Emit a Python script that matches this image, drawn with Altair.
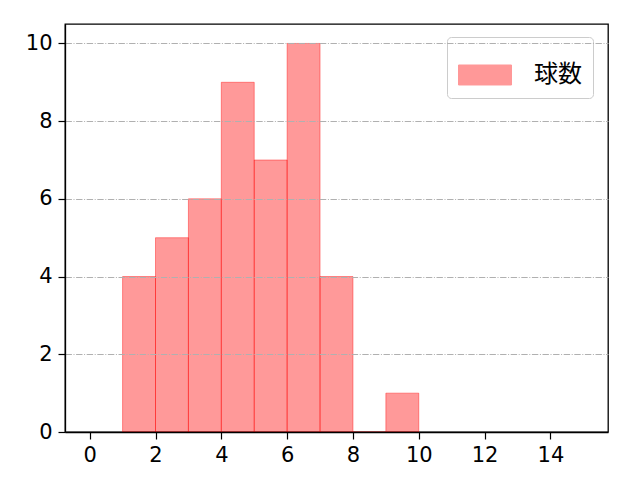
import altair as alt
import pandas as pd

bin_start = [1, 2, 3, 4, 5, 6, 7, 8, 9]
bin_end = [2, 3, 4, 5, 6, 7, 8, 9, 10]
counts = [4, 5, 6, 9, 7, 10, 4, 0, 1]
series = ["球数"] * len(counts)

df = pd.DataFrame({"start": bin_start, "end": bin_end, "count": counts, "series": series})

FONT = "Noto Sans CJK JP"
TICKFONT = "DejaVu Sans"

chart = alt.Chart(df).mark_bar(
    fillOpacity=0.4, stroke="red", strokeOpacity=0.4, strokeWidth=1, cornerRadius=0
).encode(
    x=alt.X("start:Q", scale=alt.Scale(domain=[-0.75, 15.75], nice=False, zero=False),
            axis=alt.Axis(values=[0, 2, 4, 6, 8, 10, 12, 14], title=None, grid=False,
                          labelFontSize=21, labelFont=TICKFONT, labelColor="black",
                          tickColor="black", domainColor="black", tickSize=7, tickWidth=1.2,
                          domainWidth=1.3, labelPadding=5, labelFlush=False, zindex=2)),
    x2="end:Q",
    y=alt.Y("count:Q", scale=alt.Scale(domain=[0, 10.5], nice=False),
            axis=alt.Axis(values=[0, 2, 4, 6, 8, 10], title=None, grid=True,
                          gridColor="#b0b0b0", gridDash=[6.4, 1.6, 1, 1.6], gridWidth=1,
                          labelFontSize=21, labelFont=TICKFONT, labelColor="black",
                          tickColor="black", domainColor="black", tickSize=7, tickWidth=1.2,
                          domainWidth=1.3, labelPadding=6, zindex=1)),
    y2=alt.datum(0),
    color=alt.Color("series:N", scale=alt.Scale(range=["red"]),
                    legend=alt.Legend(title=None, orient="none", legendX=382, legendY=13,
                                      symbolType="M-1,-0.377H1V0.377H-1Z", symbolSize=2809,
                                      symbolStrokeColor="red", symbolStrokeWidth=1,
                                      symbolOpacity=0.4,
                                      labelFont=FONT, labelFontSize=24, labelColor="black",
                                      fillColor="white", strokeColor="#cccccc", cornerRadius=4,
                                      padding=11, labelOffset=22, symbolOffset=0)),
).properties(
    width=543, height=408,
    padding={"left": 57, "top": 16, "right": 24, "bottom": 40},
    autosize=alt.AutoSizeParams(type="none"),
).configure_view(stroke="black", strokeWidth=1.3)

chart.save("out.html", embed_options={"renderer": "svg", "actions": False})
